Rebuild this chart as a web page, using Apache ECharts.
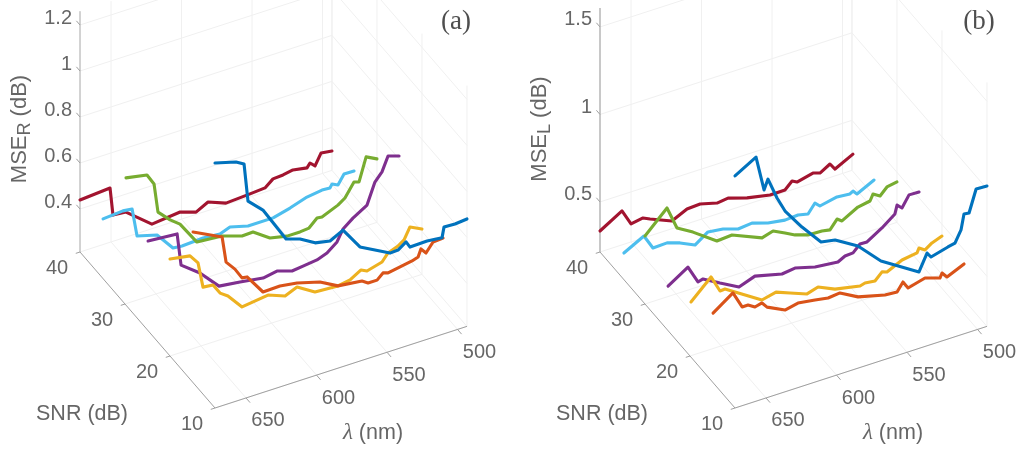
<!DOCTYPE html>
<html><head><meta charset="utf-8">
<style>html,body{margin:0;padding:0;background:#fff}#c{width:1021px;height:449px;filter:blur(0.35px)}</style>
<script src="https://cdn.jsdelivr.net/npm/echarts@6/dist/echarts.min.js"></script>
</head><body><div id="c"></div>
<script>
// ---------- tick values ----------
const snrTicks = [10, 20, 30, 40];
const lambdaTicks = [500, 550, 600, 650];
const mseTicksR = ['0.4', '0.6', '0.8', '1', '1.2'];
const mseTicksL = ['0.5', '1', '1.5'];
const snrLevels = [40, 35, 30, 25, 20, 15, 10];
const colors = ['#A2142F', '#4DBEEE', '#77AC30', '#7E2F8E', '#EDB120', '#D95319', '#0072BD'];

// ---------- panel (a): MSE_R ----------
const lamR40 = [672,650.7,648.6,639.4,621,601,589.7,581.2,568.5,551.4,540.8,535.1,528,521,511,508.9,505.3,501,493.3];
const mseR40 = [.439,.449,.327,.322,.233,.246,.223,.250,.220,.226,.231,.259,.262,.270,.259,.276,.256,.304,.297];
const lamR35 = [671.6,657.5,651,647.5,633.3,622,615.6,600.7,588.7,581.6,568.8,551,539,527,516.3,510.7,509.2,505,500.7,493.6];
const mseR35 = [.469,.476,.471,.347,.323,.244,.240,.245,.239,.255,.234,.234,.253,.277,.286,.284,.298,.286,.325,.324];
const lamR30 = [671.3,656.4,651.4,648.6,640,633,621,603.2,589,581.2,569.2,557.1,547.9,541.5,535.8,532.3,521,516,509.6,506,501,493.3];
const mseR30 = [.760,.743,.694,.566,.515,.483,.381,.372,.344,.346,.296,.280,.280,.284,.316,.314,.343,.364,.421,.414,.513,.489];
const lamR25 = [671.6,651,648.2,634.8,621.3,606.4,590,580.2,569.5,561.7,551.8,544.7,537.6,533.3,526.3,516.3,510.7,505.7,501.4,493.6];
const mseR25 = [.599,.589,.448,.387,.303,.291,.276,.287,.266,.272,.279,.295,.329,.377,.410,.447,.536,.570,.631,.615];
const lamR20 = [672,657.8,652.1,648.6,641.5,636.5,630.9,620.9,602.5,590.4,581.9,569.2,552.9,544.3,536.5,532.3,521.6,517.4,510.3,506,501.8,493.3];
const mseR20 = [.635,.620,.578,.466,.461,.416,.392,.325,.340,.312,.334,.287,.281,.290,.318,.305,.323,.354,.370,.388,.436,.410];
const lamR15 = [671.6,651,648.2,641.9,636.9,633.3,622,610,597.9,581.6,568.8,551.8,547.5,541.1,536.9,533.3,516.3,512,510,506.4,501.4,494.3];
const mseR15 = [.864,.802,.687,.644,.596,.593,.505,.507,.496,.468,.426,.413,.396,.396,.419,.412,.430,.439,.470,.445,.483,.486];
const lamR10 = [672,657.1,651.4,648.6,638,621.6,611.7,601,590.4,581.2,569.2,547.9,542.2,536.5,533.7,521.6,511,509.6,501.8,493.3];
const mseR10 = [1.278,1.253,1.233,1.066,1.006,.848,.828,.790,.777,.806,.709,.640,.642,.666,.638,.640,.633,.677,.675,.680];

// ---------- panel (b): MSE_L ----------
const lamL40 = [672,656.4,650,641.5,636.5,621,610.3,601,589,581.2,567.7,551.4,540.8,535.8,532.3,521,516,508.9,505.3,492.6];
const mseL40 = [.334,.408,.317,.329,.310,.258,.299,.303,.277,.285,.251,.225,.226,.264,.249,.271,.258,.291,.253,.305];
const lamL35 = [671,656.8,650.4,640.4,631.2,620.6,611.4,600.7,590,580.2,568.8,556.8,547.5,540.4,535.5,532,519.9,510.7,508.5,505.7,493.6];
const mseL35 = [.354,.414,.329,.332,.308,.268,.319,.308,.280,.288,.259,.244,.249,.236,.286,.260,.280,.273,.284,.260,.308];
const lamL30 = [672,656.4,649.3,638,621,610.3,589,581.2,572.7,565.6,556.4,546.5,540.8,535.8,532.3,521,512.4,510.3,505.3,500.4,493.3];
const mseL30 = [.603,.722,.589,.536,.441,.447,.375,.394,.360,.331,.307,.304,.295,.344,.324,.374,.386,.420,.396,.435,.445];
const lamL25 = [671.6,657.5,650.4,646.8,634.8,621.3,610,590.8,581.6,567.4,551.1,546.1,540.4,535.5,530.5,519.9,510.7,509.2,505.7,500.7,493.6];
const mseL25 = [.464,.536,.432,.440,.385,.327,.360,.322,.332,.301,.287,.308,.311,.349,.348,.400,.456,.503,.477,.539,.537];
const lamL20 = [671.3,657.1,650.7,647.2,621,611,601,589,581.2,569.2,551.4,547.9,540.8,535.8,532.3,521.6,511,509.6,505.3,500.4,493.3];
const mseL20 = [.521,.627,.530,.532,.401,.420,.389,.352,.371,.328,.299,.307,.300,.339,.329,.370,.383,.407,.385,.412,.433];
const lamL15 = [671.6,657.5,651,646.8,641.9,636.9,633.3,620.6,611.4,599.3,590,581.6,568.8,549.7,541.1,536.9,533.3,521.3,510.7,509.2,505.7,493.6];
const mseL15 = [.607,.685,.588,.588,.564,.574,.541,.491,.507,.493,.480,.487,.431,.392,.387,.433,.389,.415,.387,.412,.380,.423];
const lamL10 = [672,657.1,651.4,648.6,642.2,636.5,624.5,611,601,584.8,568.5,541.5,535.8,533,521,516,511.7,509.6,506,501,493.3];
const mseL10 = [1.540,1.609,1.406,1.461,1.336,1.247,1.124,1.003,.989,.912,.784,.651,.744,.714,.740,.749,.813,.899,.895,1.019,1.016];

const lamSetR = [lamR40, lamR35, lamR30, lamR25, lamR20, lamR15, lamR10];
const mseSetR = [mseR40, mseR35, mseR30, mseR25, mseR20, mseR15, mseR10];
const lamSetL = [lamL40, lamL35, lamL30, lamL25, lamL20, lamL15, lamL10];
const mseSetL = [mseL40, mseL35, mseL30, mseL25, mseL20, mseL15, mseL10];

// ---------- 3-D box limits and oblique projection ----------
const LMAX = 672, LMIN = 493.3, SHI = 40, SLO = 10;
const panelA = {x0: 80, z0: 0.213, zTop: 1.26, k: 230, ticks: mseTicksR, lam: lamSetR, mse: mseSetR, zAxisColor: '#a6a6a6', zAxisW: 1};
const panelB = {x0: 600, z0: 0.214, zTop: 1.608, k: 175, ticks: mseTicksL, lam: lamSetL, mse: mseSetL, zAxisColor: '#c8c8c8', zAxisW: 2};
function proj(p, lam, snr, z) {
  return [p.x0 + (LMAX - lam) * 1.41 + (SHI - snr) * 4.5,
          252 + (SHI - snr) * 5.2 - (LMAX - lam) * 0.4568 - (z - p.z0) * p.k];
}

const series = [];
const GRID = '#f0f0f0', AXIS = '#a0a0a0', TXT = '#404040';
function path(pts, color, width) {
  series.push({type: 'line', data: pts, symbol: 'none', silent: true, animation: false,
    lineStyle: {color, width, cap: 'butt'}});
}
function label(pos, text, offset, extra) {
  series.push({type: 'scatter', data: [pos], symbolSize: 1, silent: true, animation: false,
    itemStyle: {color: 'transparent'},
    label: Object.assign({show: true, formatter: text, position: 'inside', offset: offset,
      align: 'center', verticalAlign: 'middle', color: TXT, fontFamily: 'Liberation Sans', fontSize: 20}, extra || {})});
}

function drawPanel(p) {
  const P = (l, s, z) => proj(p, l, s, z);
  // walls
  p.ticks.forEach(t => path([P(LMAX, SHI, +t), P(LMIN, SHI, +t), P(LMIN, SLO, +t)], GRID, 1));
  lambdaTicks.forEach(l => {
    path([P(l, SHI, p.z0), P(l, SHI, p.zTop)], GRID, 1);
    path([P(l, SHI, p.z0), P(l, SLO, p.z0)], GRID, 1);
  });
  snrTicks.forEach(s => {
    path([P(LMIN, s, p.z0), P(LMIN, s, p.zTop)], GRID, 1);
    path([P(LMAX, s, p.z0), P(LMIN, s, p.z0)], GRID, 1);
  });
  path([P(LMIN, SHI, p.z0), P(LMIN, SHI, p.zTop)], GRID, 1);
  path([P(LMIN, SHI, p.z0), P(LMIN, SLO, p.z0)], GRID, 1);
  // axis lines
  path([P(LMAX, SHI, p.z0), P(LMAX, SHI, p.zTop)], p.zAxisColor, p.zAxisW);
  path([P(LMAX, SHI, p.z0), P(LMAX, SLO, p.z0)], AXIS, 1);
  path([P(LMAX, SLO, p.z0), P(LMIN, SLO, p.z0)], AXIS, 1);
  // ticks and tick labels
  p.ticks.forEach(t => {
    path([P(LMAX, SHI, +t), P(LMAX, SHI + 0.8, +t)], AXIS, 1);
    label(P(LMAX, SHI, +t), t, [0, 0], {position: 'inside', align: 'right', offset: [-8, -7]});
  });
  snrTicks.forEach(s => {
    path([P(LMAX, s, p.z0), P(LMAX + 3, s, p.z0)], AXIS, 1);
    label(P(LMAX, s, p.z0), String(s), [-23, 16]);
  });
  lambdaTicks.forEach(l => {
    path([P(l, SLO, p.z0), P(l, SLO - 0.9, p.z0)], AXIS, 1);
    label(P(l, SLO, p.z0), String(l), [22, 23]);
  });
  // data
  p.lam.forEach((ls, i) => {
    const pts = ls.map((l, j) => P(l, snrLevels[i], p.mse[i][j]));
    series.push({type: 'line', name: 'SNR ' + snrLevels[i], data: pts, symbol: 'none', silent: true, animation: false,
      lineStyle: {color: colors[i], width: 3.1, join: 'round', cap: 'round'}, z: 5});
  });
}
drawPanel(panelA);
drawPanel(panelB);

// axis titles
[[0, 'R', '(a)', 456], [520, 'L', '(b)', 459]].forEach(([dx, sub, tag, tagX]) => {
  label([20 + dx, 129], '{m|MSE}{s|' + sub + '}{m| (dB)}', [0, 0], {rotate: 90,
    rich: {m: {fontSize: 22, color: TXT, fontFamily: 'Liberation Sans'},
           s: {fontSize: 18, color: TXT, fontFamily: 'Liberation Sans', padding: [10, 0, 0, 0]}}});
  label([82 + dx, 414], 'SNR (dB)', [0, 0], {fontSize: 21.5});
  label([373 + dx, 433], '{l|λ}{n| (nm)}', [0, 0], {
    rich: {l: {fontFamily: 'Liberation Serif', fontStyle: 'italic', fontSize: 23, color: TXT},
           n: {fontFamily: 'Liberation Sans', fontSize: 21.5, color: TXT}}});
  label([tagX + dx, 22], tag, [0, 0], {fontFamily: 'Liberation Serif', fontSize: 27, color: '#222'});
});

const chart = echarts.init(document.getElementById('c'), null, {renderer: 'canvas'});
chart.setOption({
  animation: false,
  backgroundColor: '#fff',
  grid: {left: 0, right: 0, top: 0, bottom: 0},
  xAxis: {type: 'value', min: 0, max: 1021, show: false},
  yAxis: {type: 'value', min: 0, max: 449, inverse: true, show: false},
  series
});
</script></body></html>
